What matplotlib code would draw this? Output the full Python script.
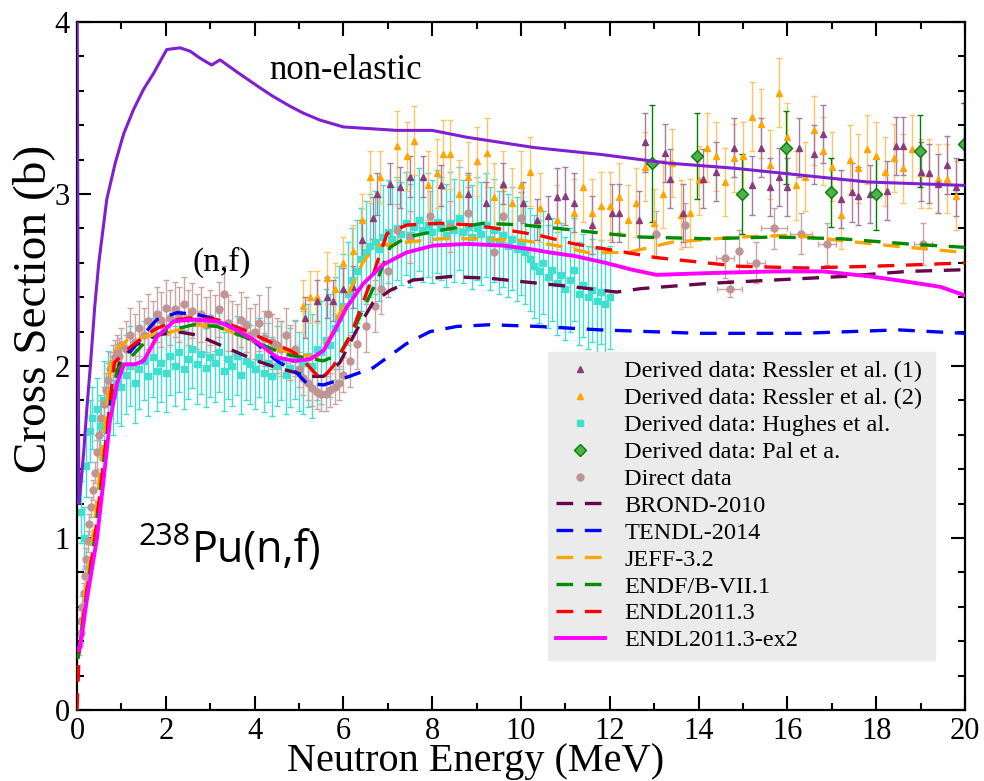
import matplotlib
matplotlib.use('Agg')
import matplotlib.pyplot as plt
from matplotlib.ticker import MultipleLocator, FormatStrFormatter
from matplotlib.lines import Line2D

plt.rcParams['font.family'] = ['Liberation Serif', 'DejaVu Serif']
plt.rcParams['mathtext.fontset'] = 'custom'
plt.rcParams['mathtext.rm'] = 'Liberation Serif'

# ---- evaluated curves (MeV, barn) ----
nonel_e = [0.0, 0.04, 0.1, 0.15, 0.22, 0.3, 0.4, 0.49, 0.67, 0.86, 1.05, 1.27, 1.5, 1.72, 2.02, 2.32,
           2.55, 2.77, 3.03, 3.22, 3.6, 4.05, 4.4, 4.8, 5.1, 5.47, 6.0, 7.2, 8.0, 8.78, 10.3, 11.8,
           13.3, 14.8, 16.3, 17.8, 20.0]
nonel_xs = [4.3, 1.2, 1.35, 1.5, 1.75, 2.0, 2.35, 2.6, 2.97, 3.18, 3.35, 3.49, 3.61, 3.70, 3.84, 3.85,
            3.83, 3.79, 3.75, 3.78, 3.71, 3.63, 3.57, 3.51, 3.47, 3.43, 3.39, 3.37, 3.37, 3.33, 3.27, 3.23,
            3.18, 3.15, 3.11, 3.07, 3.05]

brond_e = [0.02, 0.2, 0.4, 0.6, 0.75, 0.97, 1.3, 1.8, 2.25, 2.7, 3.15, 3.6, 4.05, 4.5, 4.95, 5.17, 5.55,
           5.92, 6.3, 6.67, 7.05, 7.57, 8.4, 9.3, 10.05, 11.2, 12.15, 12.7, 14.2, 15.7, 17.2, 18.7, 20.0]
brond_xs = [0.3, 0.65, 1.0, 1.45, 1.78, 2.03, 2.12, 2.18, 2.20, 2.18, 2.13, 2.08, 2.03, 1.99, 1.96, 1.94,
            1.94, 2.02, 2.21, 2.37, 2.44, 2.50, 2.52, 2.51, 2.49, 2.46, 2.43, 2.45, 2.48, 2.50, 2.52, 2.55, 2.56]

tendl_e = [0.02, 0.2, 0.4, 0.6, 0.74, 1.13, 1.62, 1.8, 2.25, 2.7, 3.15, 3.6, 4.05, 4.5, 4.95, 5.17, 5.55,
           5.92, 6.67, 7.42, 7.95, 8.55, 9.3, 10.4, 11.8, 14.0, 16.3, 18.5, 20.0]
tendl_xs = [0.3, 0.65, 1.0, 1.45, 1.80, 2.06, 2.22, 2.27, 2.31, 2.30, 2.27, 2.21, 2.13, 2.03, 1.96, 1.90,
            1.89, 1.92, 1.99, 2.13, 2.20, 2.23, 2.24, 2.23, 2.21, 2.19, 2.19, 2.21, 2.19]

jeff_e = [0.02, 0.2, 0.4, 0.6, 0.79, 1.13, 1.46, 2.03, 2.63, 3.15, 3.76, 4.2, 4.8, 5.4, 5.7, 6.07, 6.45,
          6.75, 7.43, 8.18, 9.0, 10.05, 10.8, 11.5, 12.4, 13.4, 14.9, 16.1, 17.2, 18.3, 20.0]
jeff_xs = [0.3, 0.7, 1.1, 1.6, 2.08, 2.15, 2.17, 2.19, 2.24, 2.23, 2.17, 2.12, 2.08, 2.05, 2.17, 2.40, 2.61,
           2.70, 2.72, 2.74, 2.74, 2.73, 2.70, 2.66, 2.66, 2.72, 2.75, 2.76, 2.73, 2.70, 2.66]

endf_e = [0.02, 0.2, 0.4, 0.6, 0.9, 1.28, 1.5, 1.96, 2.63, 3.15, 3.76, 4.2, 4.66, 5.1, 5.55, 5.92, 6.3,
          6.76, 7.05, 7.43, 8.2, 9.15, 10.05, 11.2, 11.9, 12.7, 14.2, 15.7, 17.2, 18.7, 20.0]
endf_xs = [0.3, 0.65, 1.0, 1.45, 1.98, 2.07, 2.13, 2.20, 2.24, 2.23, 2.17, 2.12, 2.07, 2.05, 2.03, 2.07, 2.25,
           2.50, 2.69, 2.75, 2.79, 2.83, 2.82, 2.79, 2.77, 2.75, 2.74, 2.75, 2.74, 2.71, 2.69]

endl_e = [0.0, 0.05, 0.2, 0.4, 0.6, 0.84, 1.2, 1.73, 2.25, 2.63, 3.15, 3.76, 4.35, 4.8, 5.0, 5.25, 5.5,
          5.77, 6.15, 6.6, 6.98, 7.43, 8.18, 8.92, 9.7, 10.4, 11.2, 12.15, 13.05, 13.8, 14.9, 16.4, 17.9,
          19.05, 20.0]
endl_xs = [0.0, 0.35, 0.65, 1.0, 1.45, 2.02, 2.11, 2.21, 2.27, 2.28, 2.27, 2.21, 2.14, 2.09, 2.06, 1.99,
           1.92, 2.00, 2.17, 2.48, 2.77, 2.82, 2.83, 2.82, 2.79, 2.76, 2.71, 2.67, 2.63, 2.61, 2.58, 2.57,
           2.58, 2.59, 2.60]

ex2_e = [0.05, 0.1, 0.22, 0.45, 0.59, 0.74, 0.9, 1.06, 1.31, 1.5, 1.8, 2.18, 2.63, 3.15, 3.6, 4.05, 4.5,
         4.88, 5.25, 5.55, 5.77, 6.07, 6.45, 6.9, 7.42, 8.02, 8.78, 9.6, 10.2, 10.65, 11.2, 11.9, 12.5,
         13.05, 14.2, 15.7, 16.8, 17.9, 18.7, 19.45, 20.0]
ex2_xs = [0.35, 0.42, 0.64, 1.0, 1.32, 1.68, 1.90, 2.01, 2.01, 2.03, 2.17, 2.26, 2.27, 2.26, 2.21, 2.14,
          2.05, 2.03, 2.04, 2.09, 2.19, 2.34, 2.48, 2.59, 2.66, 2.70, 2.71, 2.70, 2.68, 2.66, 2.64, 2.60,
          2.56, 2.53, 2.54, 2.55, 2.55, 2.52, 2.49, 2.46, 2.41]

# ---- measured / derived data ----
ress1_e = [5.13, 5.4, 5.62, 5.77, 6.0, 6.22, 6.42, 6.67, 6.75, 7.05, 7.27, 7.5, 7.8, 8.2, 8.8, 9.2, 9.6,
           10.05, 10.35, 10.6, 10.8, 11.0, 11.2, 11.6, 12.05, 12.2, 12.65, 12.8, 13.25, 13.35, 13.65, 14.1,
           14.4, 14.8, 15.2, 15.4, 15.6, 15.8, 16.0, 16.25, 16.6, 16.8, 17.2, 17.45, 17.6, 17.85, 18.25,
           18.45, 18.6, 19.0, 19.2, 19.4, 19.6, 19.8]
ress1_xs = [2.28, 2.38, 2.40, 2.38, 2.45, 2.46, 2.73, 2.86, 3.00, 3.06, 3.04, 3.10, 3.10, 3.05, 3.00, 2.95,
            3.06, 2.95, 2.85, 2.87, 2.98, 2.99, 2.95, 2.82, 2.89, 2.89, 2.85, 3.30, 3.24, 3.09, 2.89, 3.09,
            3.13, 3.27, 3.05, 3.27, 3.04, 3.10, 3.04, 3.27, 3.23, 3.35, 2.97, 3.01, 2.99, 3.00, 3.02,
            3.28, 3.28, 3.13, 3.12, 3.06, 3.17, 3.04]
ress1_err = [0.12] * 20 + [0.17] * 34

ress2_e = [5.1, 5.25, 5.4, 5.63, 5.81, 6.0, 6.22, 6.42, 6.6, 6.82, 7.2, 7.43, 7.6, 7.9, 8.1, 8.25, 8.4,
           8.6, 8.8, 9.0, 9.23, 9.4, 9.6, 9.8, 10.0, 10.2, 10.43, 10.8, 11.2, 11.4, 11.6, 11.8, 12.0,
           12.2, 12.4, 12.6, 12.8, 13.0, 13.2, 13.4, 13.6, 13.8, 14.0, 14.2, 14.4, 14.6, 14.8, 15.0,
           15.2, 15.4, 15.6, 15.8, 16.0, 16.2, 16.4, 16.6, 16.8, 17.0, 17.2, 17.4, 17.6, 17.8, 18.0,
           18.2, 18.4, 18.6, 18.8, 19.0, 19.2, 19.4, 19.6, 19.8]
ress2_xs = [2.35, 2.40, 2.40, 2.51, 2.45, 2.60, 2.67, 2.85, 3.10, 3.10, 3.28, 3.22, 3.31, 3.05, 3.12, 3.23,
            3.23, 3.00, 3.10, 3.19, 3.24, 2.98, 3.05, 2.95, 3.05, 3.13, 2.92, 2.85, 2.89, 3.04, 2.89,
            2.93, 2.93, 2.98, 2.85, 2.95, 3.16, 2.83, 3.00, 3.18, 2.88, 2.89, 3.08, 3.27, 3.22, 3.07,
            3.21, 3.22, 3.45, 3.41, 3.17, 3.59, 3.33, 3.05, 3.10, 3.37, 3.25, 3.16, 2.88, 3.20, 3.15,
            3.26, 3.22, 3.13, 3.21, 3.15, 3.26, 3.12, 3.12, 3.09, 3.09, 2.99]
ress2_err = [0.15] * 10 + [0.2] * 62

hughes_e = [0.1, 0.15, 0.2, 0.3, 0.34, 0.45, 0.52,
            0.6, 0.7, 0.8, 0.9, 1.0, 1.1, 1.2, 1.3, 1.4, 1.5, 1.6, 1.7, 1.8, 1.9, 2.0,
            2.1, 2.2, 2.3, 2.4, 2.5, 2.6, 2.7, 2.8, 2.9, 3.0, 3.1, 3.2, 3.3, 3.4, 3.5, 3.6, 3.7, 3.8, 3.9, 4.0,
            4.1, 4.2, 4.3, 4.4, 4.5, 4.6, 4.7, 4.8, 4.9, 5.0, 5.1, 5.2, 5.3, 5.4, 5.5, 5.6, 5.7, 5.8, 5.9, 6.0,
            6.1, 6.2, 6.3, 6.4, 6.5, 6.6, 6.7, 6.8, 6.9, 7.0, 7.1, 7.2, 7.3, 7.4, 7.5, 7.6, 7.7, 7.8, 7.9, 8.0,
            8.1, 8.2, 8.3, 8.4, 8.5, 8.6, 8.7, 8.8, 8.9, 9.0, 9.1, 9.2, 9.3, 9.4, 9.5, 9.6, 9.7, 9.8, 9.9, 10.0,
            10.1, 10.2, 10.3, 10.4, 10.5, 10.6, 10.7, 10.8, 10.9, 11.0, 11.1, 11.2, 11.3, 11.4, 11.5, 11.6,
            11.7, 11.8, 11.9, 12.0]
hughes_xs = [1.15, 1.0, 1.42, 1.62, 1.70, 1.75, 1.65,
             1.80, 1.86, 1.83, 1.90, 1.88, 1.95, 2.00, 1.90, 1.98, 2.03, 1.94, 2.05, 1.97, 2.02, 1.96,
             2.06, 2.00, 2.08, 1.98, 2.04, 2.10, 2.01, 2.07, 1.99, 2.05, 2.02, 2.08, 1.97, 2.04, 2.00, 2.06,
             1.95, 2.03, 2.01, 1.98, 2.05, 1.96, 2.02, 1.94, 2.00, 2.03, 1.95, 1.99, 2.04, 1.97,
             2.02, 2.06, 2.00, 2.10, 2.08, 2.15, 2.12, 2.22, 2.28, 2.35, 2.42, 2.50, 2.55, 2.62, 2.66, 2.70,
             2.72, 2.68, 2.75, 2.78, 2.74, 2.80, 2.77, 2.83, 2.76, 2.81, 2.85, 2.79, 2.82, 2.78,
             2.84, 2.80, 2.76, 2.83, 2.79, 2.86, 2.78, 2.81, 2.75, 2.80, 2.77, 2.82, 2.74, 2.79, 2.72, 2.76,
             2.70, 2.74, 2.68, 2.71, 2.66, 2.62, 2.58, 2.55, 2.60, 2.52, 2.56, 2.48, 2.53, 2.45,
             2.50, 2.56, 2.42, 2.47, 2.40, 2.44, 2.38, 2.43, 2.36, 2.40]
hughes_err = [0.18] * 7 + [0.23] * 45 + [0.3] * 70

direct_e = [0.05, 0.08, 0.1, 0.12, 0.15, 0.18, 0.21, 0.25, 0.28, 0.32, 0.36, 0.4, 0.45, 0.5, 0.55, 0.6,
            0.65, 0.7, 0.75, 0.8, 0.85, 0.9, 0.95, 1.0, 1.1, 1.2, 1.3, 1.4, 1.5, 1.6, 1.7, 1.8, 1.9, 2.0,
            2.1, 2.2, 2.3, 2.4, 2.5, 2.6, 2.7, 2.8, 2.9, 3.0, 3.1, 3.2, 3.3, 3.4, 3.5, 3.6, 3.7, 3.8, 3.9,
            4.0, 4.1, 4.2, 4.3, 4.4, 4.5, 4.6, 4.7, 4.8, 4.9, 5.0, 5.1, 5.2, 5.3, 5.4, 5.5, 5.6, 5.7, 5.8,
            5.9, 6.0, 6.15, 6.3, 6.5, 6.7, 6.85, 7.0, 7.2, 7.5, 7.95, 8.4, 8.8, 9.4, 9.6, 10.0]
direct_xs = [0.38, 0.45, 0.52, 0.60, 0.68, 0.78, 0.88, 0.98, 1.08, 1.18, 1.28, 1.38, 1.50, 1.60, 1.70, 1.78,
             1.86, 1.92, 1.98, 2.02, 2.05, 2.08, 2.06, 2.12, 2.10, 2.18, 2.14, 2.22, 2.18, 2.26, 2.22, 2.30,
             2.27, 2.34, 2.28, 2.33, 2.30, 2.36, 2.28, 2.32, 2.26, 2.30, 2.24, 2.28, 2.25, 2.33, 2.42, 2.25,
             2.22, 2.20, 2.27, 2.24, 2.18, 2.20, 2.25, 2.16, 2.30, 2.14, 2.12, 2.10, 2.18, 2.08, 2.10, 1.98,
             1.93, 1.90, 1.87, 1.85, 1.84, 1.84, 1.86, 1.88, 1.90, 1.95, 2.03, 2.13, 2.23, 2.35, 2.45, 2.55,
             2.79, 2.75, 2.87, 2.81, 2.89, 2.66, 2.87, 2.86]
direct_err = [0.06] * 12 + [0.1] * 12 + [0.16] * 39 + [0.1] * 11 + [0.15] * 14

direct_hi_e = [13.05, 13.7, 14.6, 14.7, 14.9, 15.3, 15.7, 16.3, 16.9, 19.05]
direct_hi_xs = [2.77, 2.82, 2.63, 2.45, 2.67, 2.60, 2.80, 2.77, 2.71, 2.71]
direct_hi_err = [0.13, 0.13, 0.12, 0.05, 0.12, 0.12, 0.12, 0.12, 0.12, 0.12]
direct_hi_de = [0.0, 0.0, 0.2, 0.28, 0.0, 0.2, 0.3, 0.25, 0.2, 0.2]

pal_e = [12.95, 13.96, 14.97, 15.97, 16.98, 18.0, 18.99, 19.98]
pal_xs = [3.18, 3.22, 3.00, 3.27, 3.01, 3.00, 3.25, 3.29]
pal_err = [0.34, 0.25, 0.23, 0.21, 0.20, 0.21, 0.21, 0.24]

fig = plt.figure(figsize=(9.84, 7.81), dpi=100)
ax = fig.add_axes([0.0783, 0.0909, 0.9024, 0.8809])

eb = dict(ls='none', elinewidth=1.0, capsize=2.5, capthick=1.0, zorder=2)
ax.errorbar(hughes_e, hughes_xs, yerr=hughes_err, fmt='s', ms=4, color='#40e0d0', ecolor='#40e0d0', **eb)
ax.errorbar(direct_e, direct_xs, yerr=direct_err, fmt='o', ms=5, color='#c09494', ecolor='#c8a4a4', **eb)
ax.errorbar(direct_hi_e, direct_hi_xs, yerr=direct_hi_err, xerr=direct_hi_de, fmt='o', ms=5,
            color='#c09494', ecolor='#c8a4a4', **eb)
ax.errorbar(ress2_e, ress2_xs, yerr=ress2_err, fmt='^', ms=5, color='#ffa500', ecolor='#ffc46a', **eb)
ax.errorbar(ress1_e, ress1_xs, yerr=ress1_err, fmt='^', ms=4, color='#8b3a7b', ecolor='#a67ca0', **eb)
ax.errorbar(pal_e, pal_xs, yerr=pal_err, fmt='D', ms=6, mfc='#50b050', mec='#008000', color='#008000',
            ecolor='#008000', **eb)

dash = (5, 3.5)
ax.plot(nonel_e, nonel_xs, color='#7f1fd0', lw=2.2, zorder=5)
ax.plot(brond_e, brond_xs, color='#670748', lw=2.4, dashes=dash, zorder=4)
ax.plot(tendl_e, tendl_xs, color='#0000ff', lw=2.4, dashes=dash, zorder=4)
ax.plot(jeff_e, jeff_xs, color='#ffa500', lw=2.4, dashes=dash, zorder=4)
ax.plot(endf_e, endf_xs, color='#008b00', lw=2.4, dashes=dash, zorder=4)
ax.plot(endl_e, endl_xs, color='#ff0000', lw=2.4, dashes=dash, zorder=4)
ax.plot(ex2_e, ex2_xs, color='#ff00ff', lw=2.8, zorder=4)

ax.set_xlim(0, 20)
ax.set_ylim(0, 4)
ax.xaxis.set_major_locator(MultipleLocator(2))
ax.xaxis.set_minor_locator(MultipleLocator(1))
ax.yaxis.set_major_locator(MultipleLocator(1))
ax.yaxis.set_minor_locator(MultipleLocator(0.2))
ax.xaxis.set_major_formatter(FormatStrFormatter('%d'))
ax.yaxis.set_major_formatter(FormatStrFormatter('%d'))
ax.tick_params(which='both', direction='in', top=True, right=True, width=1.5, labelsize=22, pad=5)
ax.tick_params(which='major', length=10)
ax.tick_params(which='minor', length=5)
for lab in ax.get_xticklabels() + ax.get_yticklabels():
    lab.set_family('Liberation Serif')
for s in ax.spines.values():
    s.set_linewidth(1.6)

ax.set_xlabel('Neutron Energy (MeV)', fontsize=29, va='baseline')
ax.set_ylabel('Cross Section (b)', fontsize=34, va='baseline')
ax.xaxis.set_label_coords(0.449, -0.0885)
ax.yaxis.set_label_coords(-0.036, 0.583)

ax.text(6.04, 3.72, 'non-elastic', ha='center', va='center', fontsize=25)
ax.text(3.27, 2.60, '(n,f)', ha='center', va='center', fontsize=24)
ax.text(0.0687, 0.2398, '238', transform=ax.transAxes, family='Open Sans', fontsize=22, va='baseline')
ax.text(0.1295, 0.2137, 'Pu(n,f)', transform=ax.transAxes, family='Open Sans', fontsize=31, va='baseline')

handles = [
    Line2D([], [], ls='none', marker='^', ms=4, color='#8b3a7b'),
    Line2D([], [], ls='none', marker='^', ms=5, color='#ffa500'),
    Line2D([], [], ls='none', marker='s', ms=4, color='#40e0d0'),
    Line2D([], [], ls='none', marker='D', ms=6, mfc='#50b050', mec='#008000'),
    Line2D([], [], ls='none', marker='o', ms=5, color='#c09494'),
    Line2D([], [], color='#670748', lw=2.4, dashes=dash),
    Line2D([], [], color='#0000ff', lw=2.4, dashes=dash),
    Line2D([], [], color='#ffa500', lw=2.4, dashes=dash),
    Line2D([], [], color='#008b00', lw=2.4, dashes=dash),
    Line2D([], [], color='#ff0000', lw=2.4, dashes=dash),
    Line2D([], [], color='#ff00ff', lw=2.8),
]
labels = ['Derived data: Ressler et al. (1)', 'Derived data: Ressler et al. (2)',
          'Derived data: Hughes et al.', 'Derived data: Pal et a.', 'Direct data',
          'BROND-2010', 'TENDL-2014', 'JEFF-3.2', 'ENDF/B-VII.1', 'ENDL2011.3', 'ENDL2011.3-ex2']
leg = ax.legend(handles, labels, loc='lower left', bbox_to_anchor=(0.530, 0.073, 0.436, 0.446),
                mode='expand', fontsize=17.5, frameon=True, fancybox=False, framealpha=1,
                facecolor='#ebebeb', edgecolor='#ebebeb', borderpad=0.35, labelspacing=0.2,
                handlelength=2.0, handletextpad=0.8, borderaxespad=0)
leg.set_zorder(10)

fig.savefig('out.png', dpi=100)
